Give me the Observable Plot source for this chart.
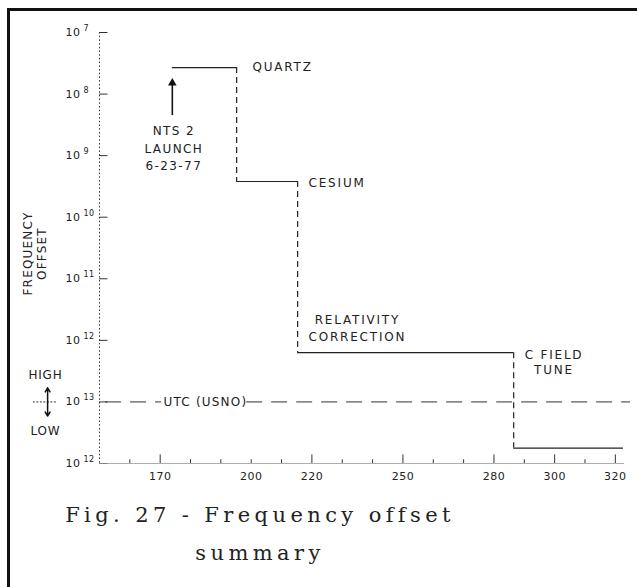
<!DOCTYPE html>
<html><head><meta charset="utf-8">
<script src="https://cdn.jsdelivr.net/npm/d3@7"></script>
<script src="https://cdn.jsdelivr.net/npm/@observablehq/plot@0.6"></script>
<style>
body{margin:0;background:#fff;}
#wrap{position:relative;width:637px;height:587px;overflow:hidden;background:#fff;}
#frame{position:absolute;left:7px;top:8px;width:700px;height:700px;border-left:3px solid #111;border-top:3px solid #111;}
#chart{position:absolute;left:0;top:0;}
#caption{position:absolute;left:0;top:496px;width:520px;text-align:center;font-family:"DejaVu Serif";font-size:21px;letter-spacing:4.4px;line-height:38px;color:#222;}
</style></head><body>
<div id="wrap"><div id="frame"></div><div id="chart"></div><div id="caption">Fig. 27 - Frequency offset<br>summary</div></div>
<script>
// y axis: decade rows, top (10^-7) to bottom (low side 10^-12)
const yTickPos = [0, 1, 2, 3, 4, 5, 6, 7];
const yTickExponents = ["7", "8", "9", "10", "11", "12", "13", "12"];
// x axis: day of year 1977
const xTickValues = [160, 170, 180, 190, 200, 210, 220, 230, 240, 250, 260, 270, 280, 290, 300, 310, 320];
const xMajorTicks = [170, 220, 250, 280, 300, 320];
const xTickLabels = [170, 200, 220, 250, 280, 300, 320];
// step history of the frequency offset
const stepDays = [174, 195.2, 215.3, 286.5, 322.7];
const stepLevels = [0.57, 2.42, 5.2, 6.75];
const stepNames = ["QUARTZ", "CESIUM", "RELATIVITY\nCORRECTION", "C FIELD\nTUNE"];
const utcLevel = 6;
const launchDay = 174;

const hSeg = stepLevels.map((y, i) => ({x1: stepDays[i], x2: stepDays[i + 1], y}));
const vSeg = stepLevels.slice(1).map((y, i) => ({x: stepDays[i + 1], y1: stepLevels[i], y2: y}));

const ink = "#222";
const lbl = {fontSize: 12, fill: ink};

const chart = Plot.plot({
  width: 637, height: 500,
  marginLeft: 99, marginRight: 7, marginTop: 32, marginBottom: 37,
  x: {domain: [150, 325], axis: null},
  y: {domain: [0, 7], reverse: true, axis: null},
  style: {fontFamily: "DejaVu Sans", color: ink, background: "transparent", overflow: "visible"},
  marks: [
    // y axis
    Plot.ruleX([150], {y1: 0, y2: 7, stroke: "#333", strokeDasharray: "1.5,2.2"}),
    Plot.ruleY(yTickPos, {x1: 150, x2: 152.8, stroke: "#333"}),
    Plot.text(yTickPos, {x: 150, y: d => d, text: () => "10", dx: -19, textAnchor: "end", fontSize: 11, fill: ink}),
    Plot.text(yTickPos, {x: 150, y: d => d, text: (d, i) => yTickExponents[i], dx: -16, dy: -4, textAnchor: "start", fontSize: 8, fill: ink}),
    // x axis
    Plot.ruleY([7], {x1: 150, x2: 323, stroke: "#999", strokeWidth: 0.8}),
    Plot.ruleX(xTickValues, {x: d => d, y1: 7, y2: d => xMajorTicks.includes(d) ? 6.86 : 6.94, stroke: "#333"}),
    Plot.text(xTickLabels, {x: d => d, y: 7, dy: 13, text: d => String(d), fontSize: 11, fill: ink}),
    // UTC reference
    Plot.ruleY([utcLevel], {x1: 152, x2: 170.5, stroke: "#333", strokeDasharray: "16,9"}),
    Plot.ruleY([utcLevel], {x1: 198.5, x2: 325, stroke: "#333", strokeDasharray: "16,9"}),
    Plot.text(["UTC (USNO)"], {x: 184.9, y: utcLevel, ...lbl}),
    // steps
    Plot.ruleY(hSeg, {y: "y", x1: "x1", x2: "x2", stroke: ink, strokeWidth: 1.2}),
    Plot.ruleX(vSeg, {x: "x", y1: "y1", y2: "y2", stroke: ink, strokeWidth: 1.2, strokeDasharray: "6,4"}),
    // step labels
    Plot.text([stepNames[0]], {x: 200.4, y: stepLevels[0], textAnchor: "start", ...lbl}),
    Plot.text([stepNames[1]], {x: 218.9, y: 2.45, textAnchor: "start", ...lbl}),
    Plot.text([stepNames[2]], {x: 235, y: 4.78, lineHeight: 1.4, ...lbl}),
    Plot.text([stepNames[3]], {x: 299.8, y: 5.34, lineHeight: 1.25, ...lbl}),
    // launch arrow
    Plot.ruleX([launchDay], {y1: 1.35, y2: 0.82, stroke: "#111", strokeWidth: 1.6}),
    Plot.dot([launchDay], {x: d => d, y: 0.82, symbol: "triangle", r: 3.2, fill: "#111", stroke: "none"}),
    Plot.text(["NTS 2\nLAUNCH\n6-23-77"], {x: launchDay + 0.5, y: 1.86, lineHeight: 1.45, ...lbl}),
    // axis title
    Plot.text(["FREQUENCY\nOFFSET"], {frameAnchor: "left", textAnchor: "middle", y: 3.59, dx: -65, rotate: -90, lineHeight: 1.15, ...lbl}),
    // high / low indicator
    Plot.text(["HIGH"], {x: 132.2, y: 5.57, ...lbl}),
    Plot.text(["LOW"], {x: 132.2, y: 6.48, ...lbl}),
    Plot.ruleY([utcLevel], {x1: 128.2, x2: 136.2, stroke: "#333", strokeDasharray: "2,1.5"}),
    Plot.arrow([0], {x1: 132.9, x2: 132.9, y1: utcLevel, y2: 5.77, stroke: "#111", strokeWidth: 1.5, headLength: 5}),
    Plot.arrow([0], {x1: 132.9, x2: 132.9, y1: utcLevel, y2: 6.23, stroke: "#111", strokeWidth: 1.5, headLength: 5})
  ]
});
// letter spacing to mimic the wide lettering of the original drawing
d3.select(chart).selectAll("text").each(function() {
  const t = this.textContent;
  let ls = "0.5px";
  if (/[A-Z]/.test(t)) ls = "1.8px";
  if (t.startsWith("UTC")) ls = "1.2px";
  if (t.startsWith("NTS")) ls = "1.4px";
  if (t.startsWith("HIGH") || t.startsWith("LOW")) ls = "0.8px";
  if (t.startsWith("FREQ")) ls = "1.2px";
  this.style.letterSpacing = ls;
});
document.getElementById("chart").appendChild(chart);
</script>
</body></html>
